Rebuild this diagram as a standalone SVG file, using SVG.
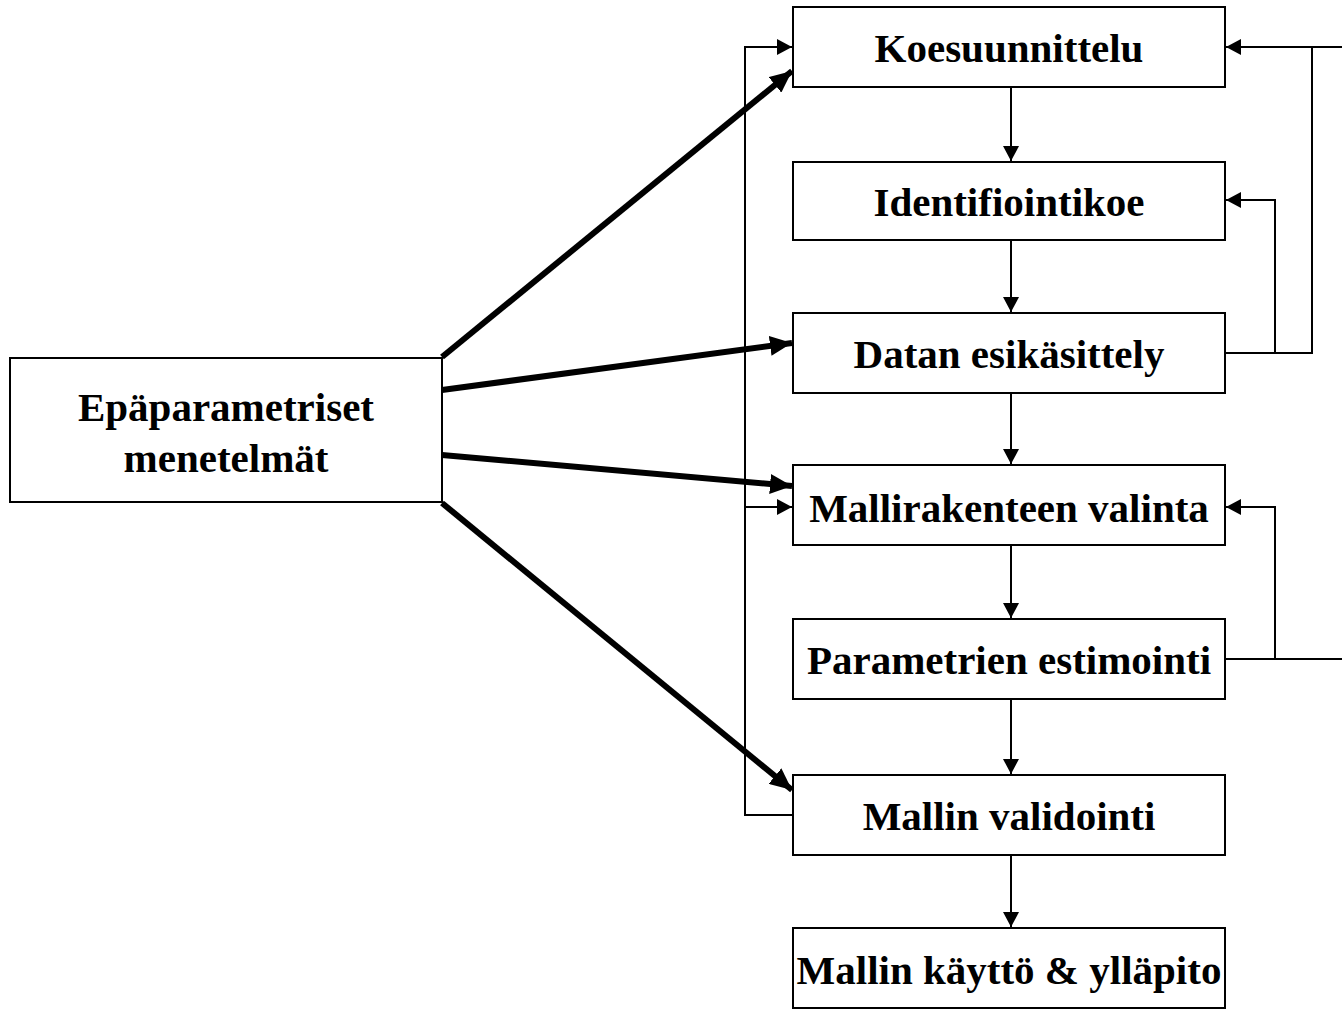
<svg xmlns="http://www.w3.org/2000/svg" width="1342" height="1011" viewBox="0 0 1342 1011">
<style>
.box{fill:#fff;stroke:#000;stroke-width:2}
.t{font-family:"Liberation Serif","Times New Roman",serif;font-weight:bold;font-size:41px;text-anchor:middle;fill:#000}
.thin{fill:none;stroke:#000;stroke-width:2}
.thick{fill:none;stroke:#000;stroke-width:6}
</style>
<defs>
<marker id="a" markerUnits="userSpaceOnUse" markerWidth="15" markerHeight="16" refX="15" refY="8" orient="auto"><path d="M0,0 L15,8 L0,16 Z" fill="#000"/></marker>
<marker id="b" markerUnits="userSpaceOnUse" markerWidth="22" markerHeight="20" refX="22" refY="10" orient="auto"><path d="M0,0 L22,10 L0,20 Z" fill="#000"/></marker>
</defs>
<g id="connectors">
<line class="thin" x1="1011" y1="87" x2="1011" y2="161" marker-end="url(#a)"/>
<line class="thin" x1="1011" y1="240" x2="1011" y2="312" marker-end="url(#a)"/>
<line class="thin" x1="1011" y1="393" x2="1011" y2="464" marker-end="url(#a)"/>
<line class="thin" x1="1011" y1="545" x2="1011" y2="618" marker-end="url(#a)"/>
<line class="thin" x1="1011" y1="699" x2="1011" y2="774" marker-end="url(#a)"/>
<line class="thin" x1="1011" y1="855" x2="1011" y2="927" marker-end="url(#a)"/>
<polyline class="thin" points="793,815 745,815 745,47 792,47" marker-end="url(#a)"/>
<line class="thin" x1="745" y1="507" x2="792" y2="507" marker-end="url(#a)"/>
<polyline class="thin" points="1225,353 1312,353 1312,47 1226,47" marker-end="url(#a)"/>
<line class="thin" x1="1312" y1="47" x2="1342" y2="47"/>
<polyline class="thin" points="1275,353 1275,200 1226,200" marker-end="url(#a)"/>
<line class="thin" x1="1225" y1="659" x2="1342" y2="659"/>
<polyline class="thin" points="1275,659 1275,507 1226,507" marker-end="url(#a)"/>
<line class="thick" x1="442" y1="357" x2="792" y2="71" marker-end="url(#b)"/>
<line class="thick" x1="442" y1="390" x2="792" y2="343" marker-end="url(#b)"/>
<line class="thick" x1="442" y1="455" x2="792" y2="486" marker-end="url(#b)"/>
<line class="thick" x1="442" y1="503" x2="792" y2="790" marker-end="url(#b)"/>
</g>
<g id="n0"><rect class="box" x="10" y="358" width="432" height="144"/><text class="t" x="226" y="421">Epäparametriset</text><text class="t" x="226" y="472">menetelmät</text></g>
<g id="n1"><rect class="box" x="793" y="7" width="432" height="80"/><text class="t" x="1009" y="62">Koesuunnittelu</text></g>
<g id="n2"><rect class="box" x="793" y="162" width="432" height="78"/><text class="t" x="1009" y="216">Identifiointikoe</text></g>
<g id="n3"><rect class="box" x="793" y="313" width="432" height="80"/><text class="t" x="1009" y="368">Datan esikäsittely</text></g>
<g id="n4"><rect class="box" x="793" y="465" width="432" height="80"/><text class="t" x="1009" y="522">Mallirakenteen valinta</text></g>
<g id="n5"><rect class="box" x="793" y="619" width="432" height="80"/><text class="t" x="1009" y="674">Parametrien estimointi</text></g>
<g id="n6"><rect class="box" x="793" y="775" width="432" height="80"/><text class="t" x="1009" y="830">Mallin validointi</text></g>
<g id="n7"><rect class="box" x="793" y="928" width="432" height="80"/><text class="t" x="1009" y="984">Mallin käyttö &amp; ylläpito</text></g>
</svg>
